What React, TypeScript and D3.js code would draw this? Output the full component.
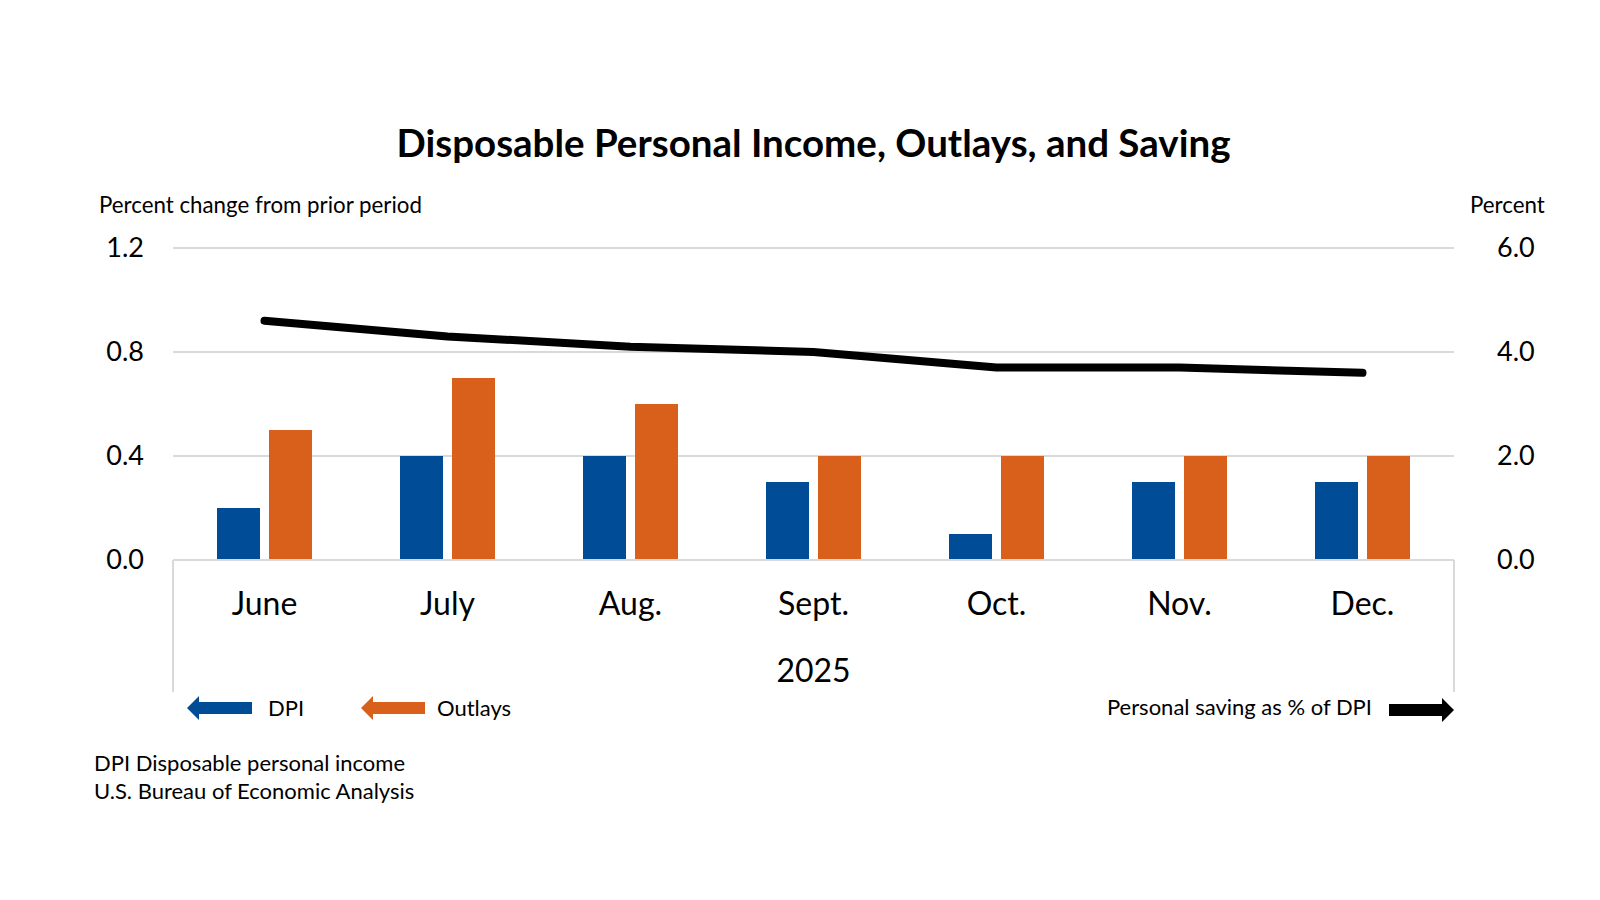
import React from 'react';
import * as d3 from 'd3';

const title = 'Disposable Personal Income, Outlays, and Saving';
const months = ['June', 'July', 'Aug.', 'Sept.', 'Oct.', 'Nov.', 'Dec.'];
const yearLabel = '2025';
const seriesNames = ['DPI', 'Outlays'];
const dpi = [0.2, 0.4, 0.4, 0.3, 0.1, 0.3, 0.3];
const outlays = [0.5, 0.7, 0.6, 0.4, 0.4, 0.4, 0.4];
const savingRate = [4.6, 4.3, 4.1, 4.0, 3.7, 3.7, 3.6];
const leftTicks = [0, 0.4, 0.8, 1.2];
const rightTicks = [0, 2, 4, 6];
const leftAxisTitle = 'Percent change from prior period';
const rightAxisTitle = 'Percent';
const savingLegend = 'Personal saving as % of DPI';
const footnotes = ['DPI Disposable personal income', 'U.S. Bureau of Economic Analysis'];

const FONT = 'Lato, "Open Sans", sans-serif';
const BLUE = '#004C97';
const ORANGE = '#D9601A';
const GRID = '#D9D9D9';

export default function App() {
  const W = 1600, H = 900;
  const left = 173, right = 1454, top = 248, bottom = 560;
  const axisBoxBottom = 692;

  const x = d3.scaleBand<string>().domain(months).range([left, right]);
  const x1 = d3.scaleBand<string>().domain(seriesNames).range([-47.5, 47.5]).paddingInner(9 / 52);
  const yL = d3.scaleLinear().domain([0, 1.2]).range([bottom, top]);
  const yR = d3.scaleLinear().domain([0, 6]).range([bottom, top]);
  const cx = (m: string) => (x(m) as number) + x.bandwidth() / 2;

  const line = d3.line<number>()
    .x((_, i) => cx(months[i]))
    .y((d) => yR(d));

  const seriesData = [dpi, outlays];
  const colors = [BLUE, ORANGE];

  const leftArrow = (x0: number, x1: number, y: number) =>
    `M${x0},${y} L${x0 + 12},${y - 12} L${x0 + 12},${y - 6} L${x1},${y - 6} L${x1},${y + 6} L${x0 + 12},${y + 6} L${x0 + 12},${y + 12} Z`;
  const rightArrow = (x0: number, x1: number, y: number) =>
    `M${x1},${y} L${x1 - 12},${y - 12} L${x1 - 12},${y - 6} L${x0},${y - 6} L${x0},${y + 6} L${x1 - 12},${y + 6} L${x1 - 12},${y + 12} Z`;

  return (
    <svg width={W} height={H} style={{ position: 'absolute', left: 0, top: 0, background: '#fff' }} fontFamily={FONT}>
      <rect width={W} height={H} fill="#fff" />
      <text x={(left + right) / 2} y={157} textAnchor="middle" fontSize={38.5} fontWeight="bold" fill="#000">{title}</text>

      <text x={99} y={213} fontSize={22.3} fill="#000">{leftAxisTitle}</text>
      <text x={1470} y={213} fontSize={22.3} fill="#000">{rightAxisTitle}</text>

      {leftTicks.filter((t) => t > 0).map((t) => (
        <line key={t} x1={left} x2={right} y1={yL(t)} y2={yL(t)} stroke={GRID} strokeWidth={2} />
      ))}
      {leftTicks.map((t) => (
        <text key={'l' + t} x={144} y={yL(t) + 9} textAnchor="end" fontSize={27} fill="#000">{d3.format('.1f')(t)}</text>
      ))}
      {rightTicks.map((t) => (
        <text key={'r' + t} x={1497} y={yR(t) + 9} fontSize={27} fill="#000">{d3.format('.1f')(t)}</text>
      ))}

      {seriesData.map((vals, si) =>
        vals.map((v, i) => (
          <rect key={si + '-' + i}
            x={cx(months[i]) + (x1(seriesNames[si]) as number)}
            y={yL(v)}
            width={x1.bandwidth()}
            height={yL(0) - yL(v)}
            fill={colors[si]} />
        ))
      )}

      <line x1={left} x2={right} y1={bottom} y2={bottom} stroke={GRID} strokeWidth={2} />
      <line x1={left} x2={left} y1={bottom} y2={axisBoxBottom} stroke={GRID} strokeWidth={2} />
      <line x1={right} x2={right} y1={bottom} y2={axisBoxBottom} stroke={GRID} strokeWidth={2} />

      <path d={line(savingRate) || ''} fill="none" stroke="#000" strokeWidth={8} strokeLinecap="round" strokeLinejoin="round" />

      {months.map((m) => (
        <text key={m} x={cx(m)} y={615} textAnchor="middle" fontSize={32} fill="#000">{m}</text>
      ))}
      <text x={(left + right) / 2} y={682} textAnchor="middle" fontSize={32} fill="#000">{yearLabel}</text>

      <path d={leftArrow(187, 252, 708)} fill={BLUE} />
      <text x={268} y={716} fontSize={22} fill="#000">{seriesNames[0]}</text>
      <path d={leftArrow(361, 425, 708)} fill={ORANGE} />
      <text x={437} y={716} fontSize={22} fill="#000">{seriesNames[1]}</text>
      <text x={1372} y={715} textAnchor="end" fontSize={22} fill="#000">{savingLegend}</text>
      <path d={rightArrow(1389, 1454, 710)} fill="#000" />

      {footnotes.map((f, i) => (
        <text key={f} x={94} y={771 + i * 28} fontSize={22} fill="#000">{f}</text>
      ))}
    </svg>
  );
}
